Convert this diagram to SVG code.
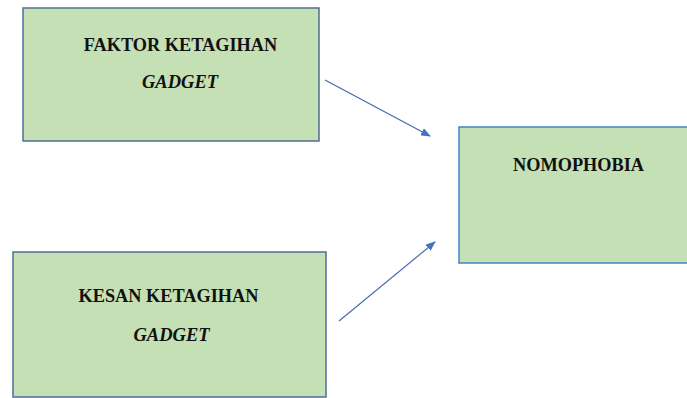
<svg xmlns="http://www.w3.org/2000/svg" width="687" height="398" viewBox="0 0 687 398">
<style>
.box{fill:#C5E0B4;stroke:#4F6D9A;stroke-width:1.5}
.box2{fill:#C5E0B4;stroke:#3E86C8;stroke-width:1.5}
.t{font-family:"Liberation Serif","Times New Roman",serif;font-weight:bold;font-size:18.3px;fill:#111;text-anchor:middle}
.i{font-style:italic;font-size:18.5px}
.c{stroke:#4A6CB0;stroke-width:1.2;fill:none}
</style>
<defs>
<marker id="ah" markerWidth="10" markerHeight="8" refX="9" refY="4" orient="auto" markerUnits="userSpaceOnUse">
<path d="M0,0 L10,4 L0,8 Z" fill="#4472C4"/>
</marker>
</defs>
<rect width="687" height="398" fill="#fff"/>
<g id="faktor">
<rect class="box" x="23" y="8" width="296" height="133"/>
<text class="t" x="180.5" y="51">FAKTOR KETAGIHAN</text>
<text class="t i" x="180" y="88">GADGET</text>
</g>
<g id="kesan">
<rect class="box" x="13" y="252" width="313" height="145"/>
<text class="t" x="168.5" y="302">KESAN KETAGIHAN</text>
<text class="t i" x="171.5" y="341">GADGET</text>
</g>
<g id="nomophobia">
<rect class="box2" x="459" y="127" width="230" height="136"/>
<text class="t" x="578.5" y="171">NOMOPHOBIA</text>
</g>
<g id="connectors">
<line class="c" x1="325" y1="80" x2="430" y2="136" marker-end="url(#ah)"/>
<line class="c" x1="339" y1="321" x2="435" y2="242" marker-end="url(#ah)"/>
</g>
</svg>
